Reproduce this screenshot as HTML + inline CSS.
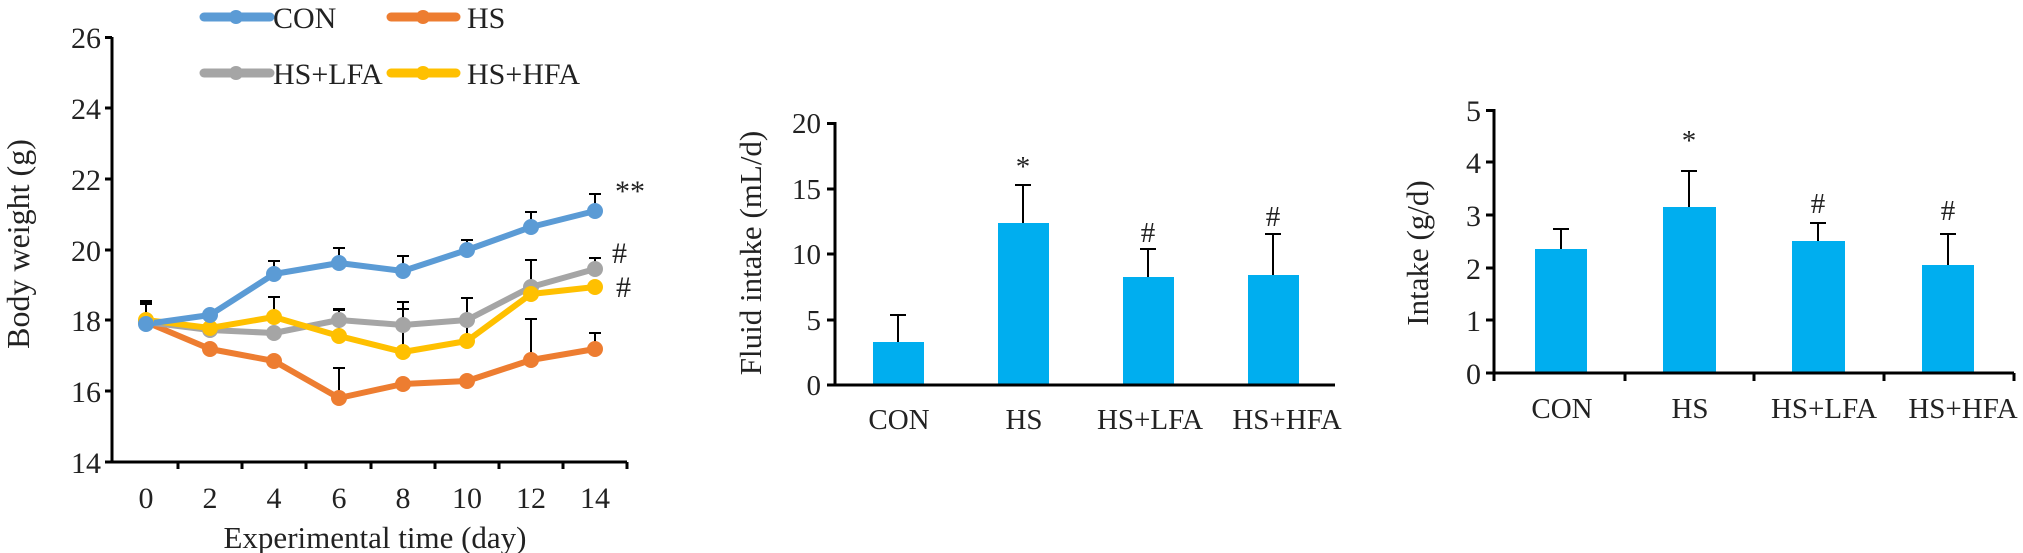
<!DOCTYPE html>
<html><head><meta charset="utf-8"><style>
html,body{margin:0;padding:0;background:#fff;}
svg{display:block;font-family:"Liberation Serif","Times New Roman",serif;}
</style></head><body>
<svg width="2023" height="553" viewBox="0 0 2023 553" xmlns="http://www.w3.org/2000/svg">
<!-- ===== Chart 1 ===== -->
<g stroke="#000" stroke-width="3" fill="none">
<line x1="112" y1="37" x2="112" y2="463"/>
<line x1="111" y1="462" x2="627" y2="462"/>
<line x1="105" y1="37.5" x2="112" y2="37.5"/>
<line x1="105" y1="108" x2="112" y2="108"/>
<line x1="105" y1="179" x2="112" y2="179"/>
<line x1="105" y1="250" x2="112" y2="250"/>
<line x1="105" y1="320" x2="112" y2="320"/>
<line x1="105" y1="391" x2="112" y2="391"/>
<line x1="105" y1="462" x2="112" y2="462"/>
<line x1="178" y1="462" x2="178" y2="469"/>
<line x1="242" y1="462" x2="242" y2="469"/>
<line x1="306" y1="462" x2="306" y2="469"/>
<line x1="371" y1="462" x2="371" y2="469"/>
<line x1="435" y1="462" x2="435" y2="469"/>
<line x1="499" y1="462" x2="499" y2="469"/>
<line x1="563" y1="462" x2="563" y2="469"/>
<line x1="627" y1="462" x2="627" y2="469"/>
</g>
<g font-size="30" fill="#222" text-anchor="end">
<text x="101" y="48">26</text><text x="101" y="119">24</text><text x="101" y="190">22</text>
<text x="101" y="261">20</text><text x="101" y="331">18</text><text x="101" y="402">16</text><text x="101" y="473">14</text>
</g>
<g font-size="30" fill="#222" text-anchor="middle">
<text x="146" y="508">0</text><text x="210" y="508">2</text><text x="274" y="508">4</text><text x="339" y="508">6</text>
<text x="403" y="508">8</text><text x="467" y="508">10</text><text x="531" y="508">12</text><text x="595" y="508">14</text>
<text x="375" y="548" font-size="31">Experimental time (day)</text>
<text transform="translate(29,244) rotate(-90)" font-size="32">Body weight (g)</text>
</g>
<!-- error bars -->
<g stroke="#000" stroke-width="2" fill="none">
<path d="M146 324V304m-6 0h12 M210 315V315m-6 0h12 M274 274V261m-6 0h12 M339 263V248m-6 0h12 M403 271V256m-6 0h12 M467 250V240m-6 0h12 M531 227V212m-6 0h12 M595 211V194m-6 0h12"/>
<path d="M146 324V301m-6 0h12 M339 398V368m-6 0h12 M531 360V319m-6 0h12 M595 349V333m-6 0h12"/>
<path d="M146 322V302m-6 0h12 M339 320V309m-6 0h12 M403 325V302m-6 0h12 M467 320V298m-6 0h12 M531 287V260m-6 0h12 M595 269V258m-6 0h12"/>
<path d="M274 317V297m-6 0h12 M339 336V310m-6 0h12 M403 352V309m-6 0h12 M467 341V298m-6 0h12"/>
</g>
<!-- series -->
<g fill="none" stroke-width="6" stroke-linejoin="round">
<polyline stroke="#ED7D31" points="146,322 210,349 274,361 339,398 403,384 467,381 531,360 595,349"/>
<polyline stroke="#A5A5A5" points="146,322 210,330 274,333 339,320 403,325 467,320 531,287 595,269"/>
<polyline stroke="#FFC000" points="146,320 210,328 274,317 339,336 403,352 467,341 531,294 595,287"/>
<polyline stroke="#5B9BD5" points="146,324 210,315 274,274 339,263 403,271 467,250 531,227 595,211"/>
</g>
<g fill="#ED7D31"><circle cx="146" cy="322" r="8"/><circle cx="210" cy="349" r="8"/><circle cx="274" cy="361" r="8"/><circle cx="339" cy="398" r="8"/><circle cx="403" cy="384" r="8"/><circle cx="467" cy="381" r="8"/><circle cx="531" cy="360" r="8"/><circle cx="595" cy="349" r="8"/></g>
<g fill="#A5A5A5"><circle cx="146" cy="322" r="8"/><circle cx="210" cy="330" r="8"/><circle cx="274" cy="333" r="8"/><circle cx="339" cy="320" r="8"/><circle cx="403" cy="325" r="8"/><circle cx="467" cy="320" r="8"/><circle cx="531" cy="287" r="8"/><circle cx="595" cy="269" r="8"/></g>
<g fill="#FFC000"><circle cx="146" cy="320" r="8"/><circle cx="210" cy="328" r="8"/><circle cx="274" cy="317" r="8"/><circle cx="339" cy="336" r="8"/><circle cx="403" cy="352" r="8"/><circle cx="467" cy="341" r="8"/><circle cx="531" cy="294" r="8"/><circle cx="595" cy="287" r="8"/></g>
<g fill="#5B9BD5"><circle cx="146" cy="324" r="8"/><circle cx="210" cy="315" r="8"/><circle cx="274" cy="274" r="8"/><circle cx="339" cy="263" r="8"/><circle cx="403" cy="271" r="8"/><circle cx="467" cy="250" r="8"/><circle cx="531" cy="227" r="8"/><circle cx="595" cy="211" r="8"/></g>
<g font-size="30" fill="#222">
<text x="615" y="201">**</text><text x="612" y="263">#</text><text x="616" y="297">#</text>
</g>
<!-- legend -->
<g stroke-width="9" stroke-linecap="round">
<line x1="204" y1="17" x2="270" y2="17" stroke="#5B9BD5"/>
<line x1="391" y1="17" x2="456" y2="17" stroke="#ED7D31"/>
<line x1="204" y1="73" x2="270" y2="73" stroke="#A5A5A5"/>
<line x1="391" y1="73" x2="456" y2="73" stroke="#FFC000"/>
</g>
<circle cx="236" cy="17" r="7" fill="#5B9BD5"/><circle cx="423" cy="17" r="7" fill="#ED7D31"/>
<circle cx="236" cy="73" r="7" fill="#A5A5A5"/><circle cx="423" cy="73" r="7" fill="#FFC000"/>
<g font-size="30" fill="#222">
<text x="273" y="28">CON</text><text x="467" y="28">HS</text>
<text x="273" y="84">HS+LFA</text><text x="467" y="84">HS+HFA</text>
</g>

<!-- ===== Chart 2 ===== -->
<g fill="#00AEEF">
<rect x="873" y="342" width="51" height="43"/>
<rect x="998" y="223" width="51" height="162"/>
<rect x="1123" y="277" width="51" height="108"/>
<rect x="1248" y="275" width="51" height="110"/>
</g>
<g stroke="#000" stroke-width="2" fill="none">
<path d="M898 342V315m-8 0h16 M1023 223V185m-8 0h16 M1148 277V249m-8 0h16 M1273 275V234m-8 0h16"/>
</g>
<g stroke="#000" stroke-width="3" fill="none">
<line x1="835" y1="122" x2="835" y2="386"/>
<line x1="834" y1="385" x2="1335" y2="385"/>
<line x1="827" y1="123.5" x2="835" y2="123.5"/><line x1="827" y1="189" x2="835" y2="189"/>
<line x1="827" y1="254" x2="835" y2="254"/><line x1="827" y1="320" x2="835" y2="320"/><line x1="827" y1="385" x2="835" y2="385"/>
</g>
<g font-size="29" fill="#222" text-anchor="end">
<text x="821" y="133">20</text><text x="821" y="199">15</text><text x="821" y="264">10</text><text x="821" y="330">5</text><text x="821" y="395">0</text>
</g>
<g font-size="29" fill="#222" text-anchor="middle">
<text x="899" y="429">CON</text><text x="1024" y="429">HS</text><text x="1150" y="429">HS+LFA</text><text x="1287" y="429">HS+HFA</text>
<text x="1023" y="176">*</text><text x="1148" y="242">#</text><text x="1273" y="226">#</text>
<text transform="translate(761,253) rotate(-90)" font-size="31">Fluid intake (mL/d)</text>
</g>

<!-- ===== Chart 3 ===== -->
<g fill="#00AEEF">
<rect x="1535" y="249" width="52" height="124"/>
<rect x="1663" y="207" width="53" height="166"/>
<rect x="1792" y="241" width="53" height="132"/>
<rect x="1922" y="265" width="52" height="108"/>
</g>
<g stroke="#000" stroke-width="2" fill="none">
<path d="M1561 249V229m-8 0h16 M1689 207V171m-8 0h16 M1818 241V223m-8 0h16 M1948 265V234m-8 0h16"/>
</g>
<g stroke="#000" stroke-width="3" fill="none">
<line x1="1494" y1="109" x2="1494" y2="381"/>
<line x1="1493" y1="373" x2="2014" y2="373"/>
<line x1="1486" y1="110.5" x2="1494" y2="110.5"/><line x1="1486" y1="162" x2="1494" y2="162"/>
<line x1="1486" y1="215" x2="1494" y2="215"/><line x1="1486" y1="268" x2="1494" y2="268"/>
<line x1="1486" y1="320" x2="1494" y2="320"/><line x1="1486" y1="373" x2="1494" y2="373"/>
<line x1="1625" y1="373" x2="1625" y2="381"/><line x1="1754" y1="373" x2="1754" y2="381"/>
<line x1="1884" y1="373" x2="1884" y2="381"/><line x1="2014" y1="373" x2="2014" y2="381"/>
</g>
<g font-size="30" fill="#222" text-anchor="end">
<text x="1481" y="121">5</text><text x="1481" y="173">4</text><text x="1481" y="226">3</text>
<text x="1481" y="279">2</text><text x="1481" y="331">1</text><text x="1481" y="384">0</text>
</g>
<g font-size="29" fill="#222" text-anchor="middle">
<text x="1562" y="418">CON</text><text x="1690" y="418">HS</text><text x="1824" y="418">HS+LFA</text><text x="1963" y="418">HS+HFA</text>
<text x="1689" y="150">*</text><text x="1818" y="213">#</text><text x="1948" y="220">#</text>
<text transform="translate(1428,253) rotate(-90)" font-size="31">Intake (g/d)</text>
</g>
</svg>
</body></html>
